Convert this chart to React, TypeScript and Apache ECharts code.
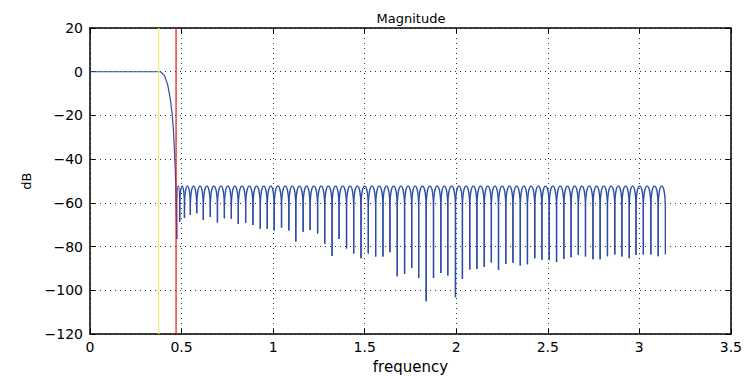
import React, { useEffect, useRef } from "react";
import * as echarts from "echarts";

// Passband + transition band (frequency, dB)
const passFreq = [0, 0.385, 0.407, 0.425, 0.438, 0.449, 0.456, 0.461, 0.465, 0.468, 0.474];
const passDb = [0, 0, -1.8, -6.2, -12.2, -19.6, -27, -35.9, -43.3, -50.7, -76.5];

// Stopband nulls (frequency, dB); lobes run between consecutive nulls
const nullFreq = [
  0.474, 0.49, 0.516, 0.548, 0.583, 0.619, 0.657, 0.696, 0.734, 0.772, 0.81,
  0.85, 0.89, 0.93, 0.968, 1.006, 1.046, 1.086, 1.124, 1.164, 1.202,
  1.243, 1.282, 1.322, 1.36, 1.401, 1.44, 1.48, 1.52, 1.56, 1.6,
  1.638, 1.678, 1.718, 1.757, 1.795, 1.836, 1.876, 1.916, 1.954, 1.996,
  2.034, 2.074, 2.113, 2.153, 2.192, 2.231, 2.271, 2.31, 2.35, 2.389,
  2.429, 2.468, 2.508, 2.548, 2.588, 2.627, 2.667, 2.706, 2.747, 2.786,
  2.826, 2.866, 2.905, 2.945, 2.982, 3.022, 3.063, 3.103, 3.142,
];
const nullDb = [
  -76.5, -68.5, -66.9, -65.5, -64.7, -67.8, -66.4, -69, -67, -67.2, -69.7,
  -69.1, -70.1, -71.8, -71.8, -72.6, -71.3, -72.6, -77.6, -73.2, -72.4,
  -74, -78.7, -84.3, -76.5, -80.8, -83.1, -85.3, -83.1, -84.5, -84.5,
  -82.6, -93.5, -92.5, -89.8, -94.3, -105, -94.3, -92, -93.2, -103.2,
  -94.8, -90.5, -90.2, -89.3, -87.3, -90.7, -87.9, -87.4, -88.6, -88,
  -85.3, -86, -86.1, -87, -85.7, -84.9, -83.7, -84.5, -85.8, -85.8,
  -84.4, -83.6, -84.5, -85.3, -83.8, -83.6, -83.6, -84.4, -83.6,
];
const stopbandPeakDb = -52.3;

// Band edge markers
const passEdgeFreq = 0.375;
const stopEdgeFreq = 0.47;

const xTicks = { min: 0, max: 3.5, interval: 0.5 };
const yTicks = { min: -120, max: 20, interval: 20 };

const BLUE = "#2c4ca6";
const FONT = "DejaVu Sans";

export default function App() {
  const ref = useRef<HTMLDivElement>(null);

  useEffect(() => {
    if (!ref.current) return;
    const chart = echarts.init(ref.current, undefined, { renderer: "svg" });

    const passData = passFreq.map((f, i) => [f, passDb[i]]);
    const lobes: number[][] = [];
    for (let i = 0; i < nullFreq.length - 1; i++) {
      lobes.push([nullFreq[i], nullDb[i], nullFreq[i + 1], nullDb[i + 1], stopbandPeakDb]);
    }

    const minusFmt = (v: number) => (v < 0 ? "\u2212" + Math.abs(v) : String(v));

    const axisCommon = {
      type: "value" as const,
      axisLine: { show: true, onZero: false, lineStyle: { color: "#000", width: 1.5 } },
      axisTick: { show: true, inside: true, length: 5, lineStyle: { color: "#000" } },
    };

    chart.setOption({
      animation: false,
      backgroundColor: "#fff",
      title: {
        text: "Magnitude",
        left: 411,
        top: 12,
        padding: 0,
        textAlign: "center",
        textStyle: { fontFamily: FONT, fontSize: 13, fontWeight: "normal", color: "#000" },
      },
      grid: { left: 90, right: 12, top: 28, bottom: 37, containLabel: false },
      xAxis: [
        {
          ...axisCommon,
          ...xTicks,
          position: "bottom",
          name: "frequency",
          nameLocation: "middle",
          nameGap: 21,
          nameTextStyle: { fontFamily: FONT, fontSize: 15, color: "#000" },
          axisLabel: { color: "#000", fontFamily: FONT, fontSize: 14, margin: 6 },
          splitLine: { show: true, lineStyle: { color: "#333", type: [1, 4], width: 1 } },
        },
        {
          ...axisCommon,
          ...xTicks,
          position: "top",
          axisLabel: { show: false },
          splitLine: { show: false },
        },
      ],
      yAxis: [
        {
          ...axisCommon,
          ...yTicks,
          position: "left",
          name: "dB",
          nameLocation: "middle",
          nameGap: 57,
          nameTextStyle: { fontFamily: FONT, fontSize: 13, color: "#000" },
          axisLabel: { color: "#000", fontFamily: FONT, fontSize: 14, margin: 7, formatter: minusFmt },
          splitLine: { show: true, lineStyle: { color: "#333", type: [1, 4], width: 1 } },
        },
        {
          ...axisCommon,
          ...yTicks,
          position: "right",
          axisLabel: { show: false },
          splitLine: { show: false },
        },
      ],
      series: [
        {
          type: "line",
          data: passData,
          showSymbol: false,
          symbol: "none",
          lineStyle: { color: BLUE, width: 1.2 },
          z: 3,
        },
        {
          type: "custom",
          coordinateSystem: "cartesian2d",
          data: lobes,
          encode: { x: 0, y: 1 },
          z: 3,
          renderItem: (_params: any, api: any) => {
            const f0 = api.value(0);
            const d0 = api.value(1);
            const f1 = api.value(2);
            const d1 = api.value(3);
            const pk = api.value(4);
            const knee = pk - 10.5;
            const ctrl = (8 * pk - 2 * knee) / 6;
            const kL = d0 > knee ? d0 : knee;
            const kR = d1 > knee ? d1 : knee;
            const p0 = api.coord([f0, d0]);
            const k0 = api.coord([f0, kL]);
            const c0 = api.coord([f0, ctrl]);
            const c1 = api.coord([f1, ctrl]);
            const k1 = api.coord([f1, kR]);
            const p1 = api.coord([f1, d1]);
            const d =
              `M${p0[0]} ${p0[1]} L${k0[0]} ${k0[1]} ` +
              `C${c0[0]} ${c0[1]} ${c1[0]} ${c1[1]} ${k1[0]} ${k1[1]} ` +
              `L${p1[0]} ${p1[1]}`;
            return {
              type: "path",
              shape: { pathData: d },
              style: { fill: "none", stroke: BLUE, lineWidth: 1.3 },
            };
          },
        },
        {
          type: "line",
          data: [
            [passEdgeFreq, yTicks.min],
            [passEdgeFreq, yTicks.max],
          ],
          showSymbol: false,
          symbol: "none",
          lineStyle: { color: "#f2ea78", width: 1.2 },
          z: 4,
        },
        {
          type: "line",
          data: [
            [stopEdgeFreq, yTicks.min],
            [stopEdgeFreq, yTicks.max],
          ],
          showSymbol: false,
          symbol: "none",
          lineStyle: { color: "#ee1111", width: 1.2 },
          z: 4,
        },
      ],
    });

    return () => chart.dispose();
  }, []);

  return (
    <div
      ref={ref}
      style={{ position: "fixed", left: 0, top: 0, width: 745, height: 379, background: "#fff" }}
    />
  );
}
